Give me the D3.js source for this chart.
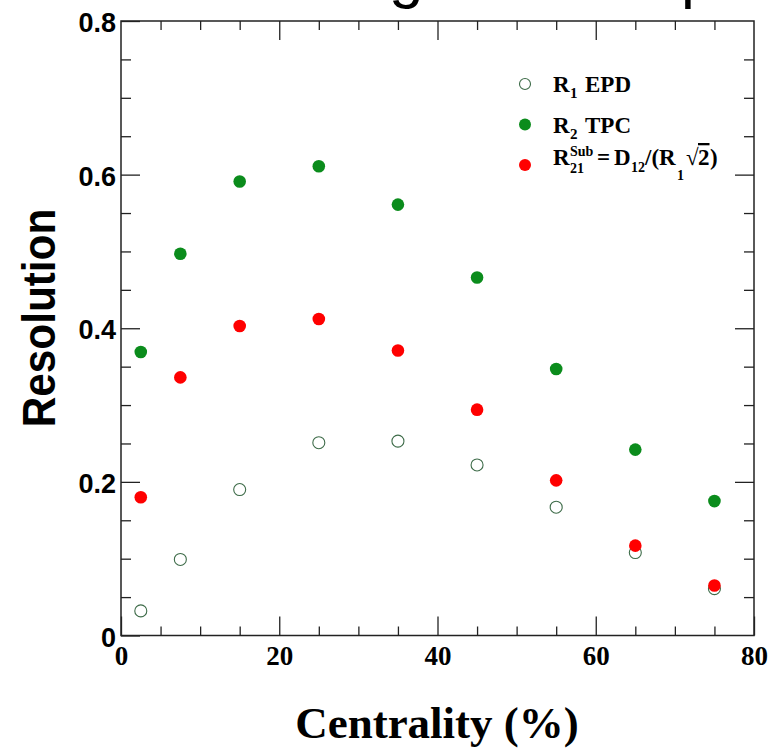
<!DOCTYPE html>
<html>
<head>
<meta charset="utf-8">
<script src="https://cdn.jsdelivr.net/npm/d3@7"></script>
<style>
  html, body { margin: 0; padding: 0; background: #fff; }
  svg { display: block; }
  .serif { font-family: "Liberation Serif", "Times New Roman", serif; font-weight: bold; }
  .sans { font-family: "Liberation Sans", Arial, Helvetica, sans-serif; font-weight: bold; }
</style>
</head>
<body>
<svg id="chart" width="769" height="748"></svg>
<script>
// Centrality bins (%) and the three resolution series
const centrality = [2.5, 7.5, 15, 25, 35, 45, 55, 65, 75];
const r1EPD  = [0.032, 0.099, 0.190, 0.251, 0.253, 0.222, 0.167, 0.108, 0.061];
const r2TPC  = [0.369, 0.497, 0.591, 0.611, 0.561, 0.466, 0.347, 0.242, 0.175];
const r21Sub = [0.180, 0.336, 0.403, 0.412, 0.371, 0.294, 0.202, 0.117, 0.065];

// Axis ticks
const xMajor = [0, 20, 40, 60, 80];
const xMinor = [5, 10, 15, 25, 30, 35, 45, 50, 55, 65, 70, 75];
const yMajor = [0, 0.2, 0.4, 0.6, 0.8];
const yMinor = [0.05, 0.1, 0.15, 0.25, 0.3, 0.35, 0.45, 0.5, 0.55, 0.65, 0.7, 0.75];
const yTickLabels = ["0", "0.2", "0.4", "0.6", "0.8"];
const xTickLabels = ["0", "20", "40", "60", "80"];

const green = "#0b8c1c";
const red = "#ff0000";
const openStroke = "#3d6b48";

const svg = d3.select("#chart");
const pL = 121, pR = 754, pT = 21, pB = 635.5;

const x = d3.scaleLinear().domain([0, 80]).range([pL, pR]);
const y = d3.scaleLinear().domain([0, 0.8]).range([pB, pT]);

// Title (mostly above the page edge, only descenders show)
svg.append("text")
  .attr("font-family", "Liberation Sans, Arial, sans-serif")
  .attr("font-size", 62).attr("y", -4)
  .selectAll("tspan").data([{t: "g", x: 389}, {t: "p", x: 681}]).join("tspan")
  .attr("x", d => d.x).text(d => d.t);

// Frame
svg.append("rect")
  .attr("x", pL).attr("y", pT)
  .attr("width", pR - pL).attr("height", pB - pT)
  .attr("fill", "none").attr("stroke", "#222").attr("stroke-width", 1.5);

function styleAxis(g) {
  g.select(".domain").remove();
  g.selectAll(".tick line").attr("stroke", "#222").attr("stroke-width", 1.3);
}

// Bottom axis
svg.append("g").attr("transform", `translate(0,${pB})`)
  .call(d3.axisBottom(x).tickValues(xMinor).tickSize(-9).tickFormat(""))
  .call(styleAxis);
const xb = svg.append("g").attr("transform", `translate(0,${pB})`)
  .call(d3.axisBottom(x).tickValues(xMajor).tickSize(-19)
    .tickFormat((d, i) => xTickLabels[i]))
  .call(styleAxis);
xb.selectAll(".tick text")
  .attr("class", "serif").attr("font-size", 27).attr("fill", "#000")
  .attr("y", 29.5).attr("dy", 0);

// Top axis (ticks only)
svg.append("g").attr("transform", `translate(0,${pT})`)
  .call(d3.axisTop(x).tickValues(xMinor).tickSize(-9).tickFormat(""))
  .call(styleAxis);
svg.append("g").attr("transform", `translate(0,${pT})`)
  .call(d3.axisTop(x).tickValues(xMajor.slice(1, -1)).tickSize(-19).tickFormat(""))
  .call(styleAxis);

// Left axis
svg.append("g").attr("transform", `translate(${pL},0)`)
  .call(d3.axisLeft(y).tickValues(yMinor).tickSize(-10).tickFormat(""))
  .call(styleAxis);
const yl = svg.append("g").attr("transform", `translate(${pL},0)`)
  .call(d3.axisLeft(y).tickValues(yMajor).tickSize(-19)
    .tickFormat((d, i) => yTickLabels[i]))
  .call(styleAxis);
yl.selectAll(".tick text")
  .attr("class", "sans").attr("font-size", 27).attr("fill", "#000")
  .attr("x", -5).attr("dy", 0).attr("y", 10.5);

// Right axis (ticks only)
svg.append("g").attr("transform", `translate(${pR},0)`)
  .call(d3.axisRight(y).tickValues(yMinor).tickSize(-10).tickFormat(""))
  .call(styleAxis);
svg.append("g").attr("transform", `translate(${pR},0)`)
  .call(d3.axisRight(y).tickValues(yMajor.slice(1, -1)).tickSize(-19).tickFormat(""))
  .call(styleAxis);

// Axis titles
svg.append("text").attr("class", "serif")
  .attr("font-size", 45).attr("text-anchor", "middle")
  .attr("x", 437).attr("y", 738)
  .text("Centrality (%)");

svg.append("text").attr("class", "sans")
  .attr("font-size", 46).attr("text-anchor", "middle")
  .attr("transform", "translate(55,318) rotate(-90) scale(0.92,1)")
  .text("Resolution");

// Data markers
const pts = (vals) => centrality.map((c, i) => ({c, v: vals[i]}));

svg.append("g").selectAll("circle").data(pts(r1EPD)).join("circle")
  .attr("cx", d => x(d.c)).attr("cy", d => y(d.v)).attr("r", 6)
  .attr("fill", "#fff").attr("stroke", openStroke).attr("stroke-width", 1.1);

svg.append("g").selectAll("circle").data(pts(r2TPC)).join("circle")
  .attr("cx", d => x(d.c)).attr("cy", d => y(d.v)).attr("r", 6.3)
  .attr("fill", green);

svg.append("g").selectAll("circle").data(pts(r21Sub)).join("circle")
  .attr("cx", d => x(d.c)).attr("cy", d => y(d.v)).attr("r", 6.3)
  .attr("fill", red);

// Legend
const lg = svg.append("g");
lg.append("circle").attr("cx", 525).attr("cy", 84).attr("r", 5.5)
  .attr("fill", "#fff").attr("stroke", openStroke).attr("stroke-width", 1.1);
lg.append("circle").attr("cx", 525).attr("cy", 124.5).attr("r", 6).attr("fill", green);
lg.append("circle").attr("cx", 525).attr("cy", 165).attr("r", 6).attr("fill", red);

function legendText(parts) {
  const t = lg.append("text").attr("class", "serif").attr("fill", "#000");
  parts.forEach(p => {
    const s = t.append("tspan").attr("x", p.x).attr("y", p.y)
      .attr("font-size", p.s || 23).text(p.t);
    if (p.over) s.style("text-decoration", "overline");
  });
}
legendText([
  {t: "R", x: 553, y: 92},
  {t: "1", x: 570, y: 98, s: 15},
  {t: "EPD", x: 585, y: 92}
]);
legendText([
  {t: "R", x: 553, y: 133},
  {t: "2", x: 570, y: 139, s: 15},
  {t: "TPC", x: 585, y: 133}
]);
legendText([
  {t: "R", x: 553, y: 165},
  {t: "Sub", x: 570, y: 156, s: 14},
  {t: "21", x: 570, y: 173, s: 14},
  {t: "=", x: 597, y: 165},
  {t: "D", x: 614, y: 165},
  {t: "12", x: 631, y: 172, s: 14},
  {t: "/(R", x: 645, y: 165},
  {t: "1", x: 677, y: 180, s: 14},
  {t: "\u221A", x: 686, y: 165},
  {t: "2", x: 698, y: 165, over: true},
  {t: ")", x: 710, y: 165}
]);
</script>
</body>
</html>
